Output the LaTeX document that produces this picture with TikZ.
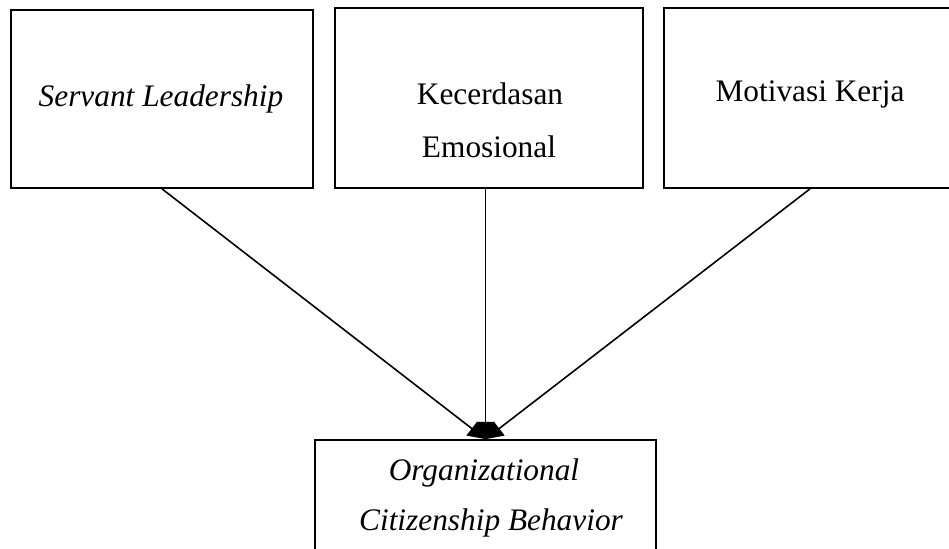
\documentclass[tikz,border=0pt]{standalone}
\usepackage{fontspec}
\setmainfont{Liberation Serif}
\usetikzlibrary{arrows.meta}
\begin{document}
\begin{tikzpicture}[x=0.75pt,y=-0.75pt,
  box/.style={draw,line width=1.3pt,rectangle,inner sep=0pt},
  txt/.style={anchor=base,inner sep=0pt,font=\fontsize{23.5}{28}\selectfont},
  conn/.style={line width=1.2pt,-{Triangle[length=13pt,width=13pt]}}]
\useasboundingbox (0,0) rectangle (949,549);
\clip (0,0) rectangle (949,549);
\node[box,minimum width=226.5pt,minimum height=133.5pt] (b1) at (162,99) {};
\node[box,minimum width=231pt,minimum height=135pt] (b2) at (489,98) {};
\node[box,minimum width=219pt,minimum height=135pt] (b3) at (810,98) {};
\node[box,minimum width=255.75pt,minimum height=93.75pt] (b4) at (485.5,502.5) {};
\node[txt] (t1) at (161,107) {\itshape Servant Leadership};
\node[txt] (t2a) at (490,105) {Kecerdasan};
\node[txt] (t2b) at (489,158) {Emosional};
\node[txt] (t3) at (810,102) {Motivasi Kerja};
\node[txt] (t4a) at (484,480) {\itshape Organizational};
\node[txt] (t4b) at (491,530) {\itshape Citizenship Behavior};
\coordinate (tip) at (b4.north);
\draw[conn] (b1.south) -- (tip);
\draw[conn] (b2.south -| tip) -- (tip);
\draw[conn] (b3.south) -- (tip);
\end{tikzpicture}
\end{document}
